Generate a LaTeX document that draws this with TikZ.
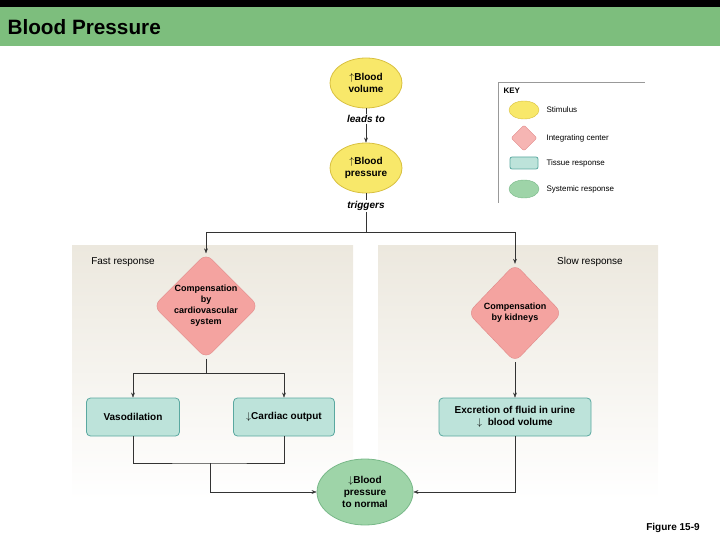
\documentclass[tikz,border=0pt]{standalone}
\usepackage{fontspec}
\setmainfont{Liberation Sans}
\usetikzlibrary{shapes.geometric,arrows.meta}
\definecolor{titlegreen}{HTML}{7DBE7D}
\definecolor{stimfill}{HTML}{F8E86A}
\definecolor{stimdraw}{HTML}{D8C040}
\definecolor{intfill}{HTML}{F4A3A0}
\definecolor{intdraw}{HTML}{E08888}
\definecolor{tisfill}{HTML}{BDE3DA}
\definecolor{tisdraw}{HTML}{5AA8A0}
\definecolor{sysfill}{HTML}{9ED4A8}
\definecolor{sysdraw}{HTML}{78B888}
\definecolor{panel}{HTML}{ECE8DE}
\begin{document}
\begin{tikzpicture}[x=1pt, y=-1pt,
		stimulus/.style={ellipse, draw=stimdraw, thick, fill=stimfill, minimum width=72pt, minimum height=50pt, inner sep=0pt, align=center, font=\bfseries},
		center/.style={diamond, draw=intdraw, fill=intfill, rounded corners=8pt, inner sep=0pt, align=center, font=\bfseries\small},
		tissue/.style={rectangle, draw=tisdraw, thick, fill=tisfill, rounded corners=4pt, minimum height=38pt, align=center, font=\bfseries},
		systemic/.style={ellipse, draw=sysdraw, thick, fill=sysfill, minimum width=96pt, minimum height=66pt, inner sep=0pt, align=center, font=\bfseries},
		link/.style={draw=black!80},
		flow/.style={draw=black!80, -{Stealth[length=5pt]}},
		keytext/.style={anchor=west, font=\footnotesize}
		]
		\useasboundingbox (0,0) rectangle (720,540);
		% title bar
		\fill[black] (0,0) rectangle (720,7);
		\fill[titlegreen] (0,7) rectangle (720,46);
		\node[anchor=west, font=\bfseries\huge] (title) at (4,27) {Blood Pressure};
		% panels
		\shade[top color=panel, bottom color=white] (72,245) rectangle (353,500);
		\shade[top color=panel, bottom color=white] (378,245) rectangle (658,500);
		\node (fast) at (123,262) {Fast response};
		\node (slow) at (590,262) {Slow response};
		% stimulus chain
		\node[stimulus] (volume) at (366,83) {$\uparrow$Blood\\volume};
		\node[stimulus] (pressure) at (366,168) {$\uparrow$Blood\\pressure};
		\node[font=\bfseries\itshape, fill=white, inner sep=1pt] (leads) at (366,119) {leads to};
		\node[font=\bfseries\itshape, fill=white, inner sep=1pt] (triggers) at (366,206) {triggers};
		\draw[link] (volume) -- (leads);
		\draw[flow] (leads) -- (pressure);
		\draw[link] (pressure) -- (triggers);
		\coordinate (split) at (366,232);
		\draw[link] (triggers) -- (split);
		% integrating centers
		\node[center, minimum width=100pt, minimum height=88pt] (cardio) at (206,306) {Compensation\\by\\cardiovascular\\system};
		\node[center, minimum width=94pt, minimum height=98pt] (kidney) at (515,313) {Compensation\\by kidneys};
		\draw[flow] (split) -| (cardio.north);
		\draw[flow] (split) -| (kidney.north);
		% tissue responses
		\node[tissue, minimum width=93pt] (vaso) at (133,417) {Vasodilation};
		\node[tissue, minimum width=101pt] (output) at (284,417) {$\downarrow$Cardiac output};
		\node[tissue, minimum width=152pt] (excrete) at (515,417) {Excretion of fluid in urine\\$\downarrow$\ \ blood volume};
		\coordinate (fork) at (206,373);
		\draw[link] (cardio.south) -- (fork);
		\draw[flow] (fork) -| (vaso.north);
		\draw[flow] (fork) -| (output.north);
		\draw[flow] (kidney.south) -- (excrete.north);
		% systemic response
		\node[systemic] (normal) at (365,492) {$\downarrow$Blood\\pressure\\to normal};
		\coordinate (join) at (210,463);
		\draw[link] (vaso.south) |- (join) -| (output.south);
		\draw[flow] (join) |- (normal.west);
		\draw[flow] (excrete.south) |- (normal.east);
		% key
		\draw[black!40] (498,203) -- (498,82) -- (645,82);
		\node[anchor=west, font=\bfseries\footnotesize] (key) at (500,91) {KEY};
		\node[ellipse, draw=stimdraw, fill=stimfill, minimum width=30pt, minimum height=18pt] (kstim) at (524,110) {};
		\node[diamond, draw=intdraw, fill=intfill!80, rounded corners=2pt, minimum size=26pt, inner sep=0pt] (kint) at (524,138) {};
		\node[rectangle, draw=tisdraw, thick, fill=tisfill, rounded corners=2pt, minimum width=28pt, minimum height=12pt] (ktis) at (524,163) {};
		\node[ellipse, draw=sysdraw, fill=sysfill, minimum width=30pt, minimum height=18pt] (ksys) at (524,189) {};
		\node[keytext] (lstim) at (543,110) {Stimulus};
		\node[keytext] (lint) at (543,138) {Integrating center};
		\node[keytext] (ltis) at (543,163) {Tissue response};
		\node[keytext] (lsys) at (543,189) {Systemic response};
		% caption
		\node[font=\bfseries] (figure) at (673,528) {Figure 15-9};
	\end{tikzpicture}
\end{document}
